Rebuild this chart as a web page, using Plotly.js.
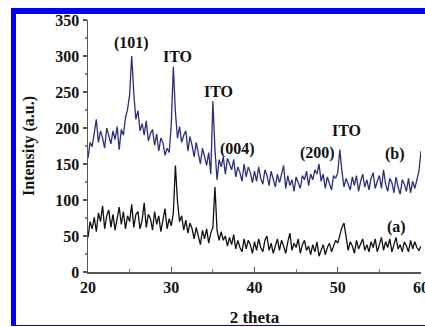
<!DOCTYPE html>
<html>
<head>
<meta charset="utf-8">
<script src="https://cdn.plot.ly/plotly-3.0.1.min.js"></script>
<style>
  html, body { margin: 0; padding: 0; background: #fff; }
  #wrap { position: relative; width: 425px; height: 327px; overflow: hidden; }
  #chart { position: absolute; left: 0; top: 0; width: 425px; height: 327px; }
  #frame { position: absolute; left: 11px; top: 8px; width: 414px; height: 311px;
           border-top: 6px solid #0000ff; border-left: 5px solid #0000ff;
           border-bottom: 1px solid #0000ff; pointer-events: none; box-sizing: content-box; }
</style>
</head>
<body>
<div id="wrap">
  <div id="chart"></div>
  <div id="frame"></div>
</div>
<script>
// 2-theta sampling (degrees)
const thetaStart = 20;
const thetaStep = 0.25;

// Series (b) - blue curve, intensity (a.u.), one row per degree (4 samples)
const seriesB = [
  158, 180, 174, 192,   // 20
  212, 180, 196, 186,   // 21
  172, 200, 190, 178,   // 22
  196, 184, 202, 170,   // 23
  198, 190, 214, 226,   // 24
  246, 300, 248, 212,   // 25
  224, 196, 206, 190,   // 26
  210, 182, 192, 198,   // 27
  176, 192, 168, 186,   // 28
  180, 162, 172, 166,   // 29
  204, 285, 222, 186,   // 30
  202, 180, 190, 196,   // 31
  168, 188, 176, 160,   // 32
  180, 166, 150, 172,   // 33
  158, 148, 166, 136,   // 34
  237, 170, 128, 156,   // 35
  146, 160, 136, 158,   // 36
  150, 142, 156, 132,   // 37
  146, 138, 126, 150,   // 38
  132, 146, 138, 124,   // 39
  140, 126, 146, 130,   // 40
  122, 142, 134, 120,   // 41
  140, 128, 118, 136,   // 42
  124, 136, 148, 116,   // 43
  134, 120, 128, 112,   // 44
  132, 124, 116, 134,   // 45
  128, 140, 120, 136,   // 46
  128, 142, 136, 150,   // 47
  126, 136, 116, 132,   // 48
  124, 114, 134, 130,   // 49
  138, 170, 140, 118,   // 50
  130, 122, 114, 132,   // 51
  120, 134, 112, 126,   // 52
  136, 118, 128, 114,   // 53
  130, 138, 116, 126,   // 54
  134, 116, 142, 122,   // 55
  112, 130, 124, 110,   // 56
  132, 118, 108, 128,   // 57
  122, 112, 130, 110,   // 58
  126, 116, 128, 140,   // 59
  168                   // 60
];

// Series (a) - black curve
const seriesA = [
  48, 70, 60, 76,       // 20
  56, 82, 70, 92,       // 21
  60, 78, 86, 62,       // 22
  80, 58, 74, 90,       // 23
  66, 84, 60, 78,       // 24
  70, 94, 62, 80,       // 25
  84, 60, 72, 96,       // 26
  62, 80, 74, 58,       // 27
  84, 66, 78, 56,       // 28
  72, 88, 60, 74,       // 29
  64, 82, 148, 98,      // 30
  70, 78, 58, 72,       // 31
  54, 68, 60, 46,       // 32
  62, 50, 38, 58,       // 33
  46, 60, 40, 54,       // 34
  62, 118, 58, 44,      // 35
  56, 44, 50, 36,       // 36
  48, 38, 52, 32,       // 37
  44, 34, 28, 46,       // 38
  32, 44, 38, 26,       // 39
  42, 30, 46, 34,       // 40
  28, 44, 50, 30,       // 41
  40, 26, 38, 46,       // 42
  30, 44, 36, 26,       // 43
  42, 54, 30, 40,       // 44
  34, 46, 26, 38,       // 45
  44, 30, 36, 24,       // 46
  38, 28, 42, 22,       // 47
  30, 38, 24, 34,       // 48
  40, 28, 36, 44,       // 49
  40, 50, 62, 68,       // 50
  46, 30, 42, 36,       // 51
  26, 44, 32, 40,       // 52
  46, 30, 38, 28,       // 53
  42, 34, 46, 28,       // 54
  38, 48, 30, 42,       // 55
  34, 46, 28, 40,       // 56
  48, 32, 38, 28,       // 57
  42, 36, 28, 44,       // 58
  32, 42, 34, 30,       // 59
  36                    // 60
];

// Peak labels
const labelText = ["(101)", "ITO", "ITO", "(004)", "(200)", "ITO", "(b)", "(a)"];
const labelX    = [25.2,    30.8,  35.7,  38.0,    47.6,    51.1,  56.9,  57.0];
const labelY    = [318,     300,   251,   171,     165,     196,   164,   62];

const serif = "Liberation Serif, Times New Roman, serif";

const traces = [
  { type: "scatter", mode: "lines", x0: thetaStart, dx: thetaStep, y: seriesB,
    line: { color: "#2e2e7e", width: 1.3 }, name: "(b)" },
  { type: "scatter", mode: "lines", x0: thetaStart, dx: thetaStep, y: seriesA,
    line: { color: "#111111", width: 1.3 }, name: "(a)" }
];

const annotations = labelText.map((t, i) => ({
  text: t, x: labelX[i], y: labelY[i], xref: "x", yref: "y", showarrow: false,
  font: { family: serif, size: 16, color: "#111", weight: "bold" }
}));

const layout = {
  width: 425, height: 327,
  margin: { l: 88, r: 4, t: 20, b: 55 },
  paper_bgcolor: "#ffffff", plot_bgcolor: "#ffffff",
  showlegend: false,
  xaxis: {
    range: [20, 60], tick0: 20, dtick: 10,
    showline: true, linecolor: "#555", linewidth: 1.5,
    ticks: "inside", ticklen: 5, tickcolor: "#555", tickwidth: 1.2,
    minor: { dtick: 5, ticks: "inside", ticklen: 3, tickcolor: "#777" },
    showgrid: false, zeroline: false,
    ticklabeloverflow: "allow",
    tickfont: { family: serif, size: 16, color: "#111", weight: "bold" },
    title: { text: "2 theta", standoff: 20,
             font: { family: serif, size: 17, color: "#111", weight: "bold" } },
    automargin: false
  },
  yaxis: {
    range: [0, 350], tick0: 0, dtick: 50,
    showline: true, linecolor: "#555", linewidth: 1.5,
    ticks: "outside", ticklen: 4, tickcolor: "#555", tickwidth: 1.2,
    minor: { dtick: 25, ticks: "outside", ticklen: 2, tickcolor: "#777" },
    showgrid: false, zeroline: false,
    tickfont: { family: serif, size: 16, color: "#111", weight: "bold" },
    title: { text: "Intensity (a.u.)", standoff: 16,
             font: { family: serif, size: 16, color: "#111", weight: "bold" } },
    automargin: false
  },
  annotations: annotations
};

Plotly.newPlot("chart", traces, layout, { displayModeBar: false, staticPlot: true });
</script>
</body>
</html>
